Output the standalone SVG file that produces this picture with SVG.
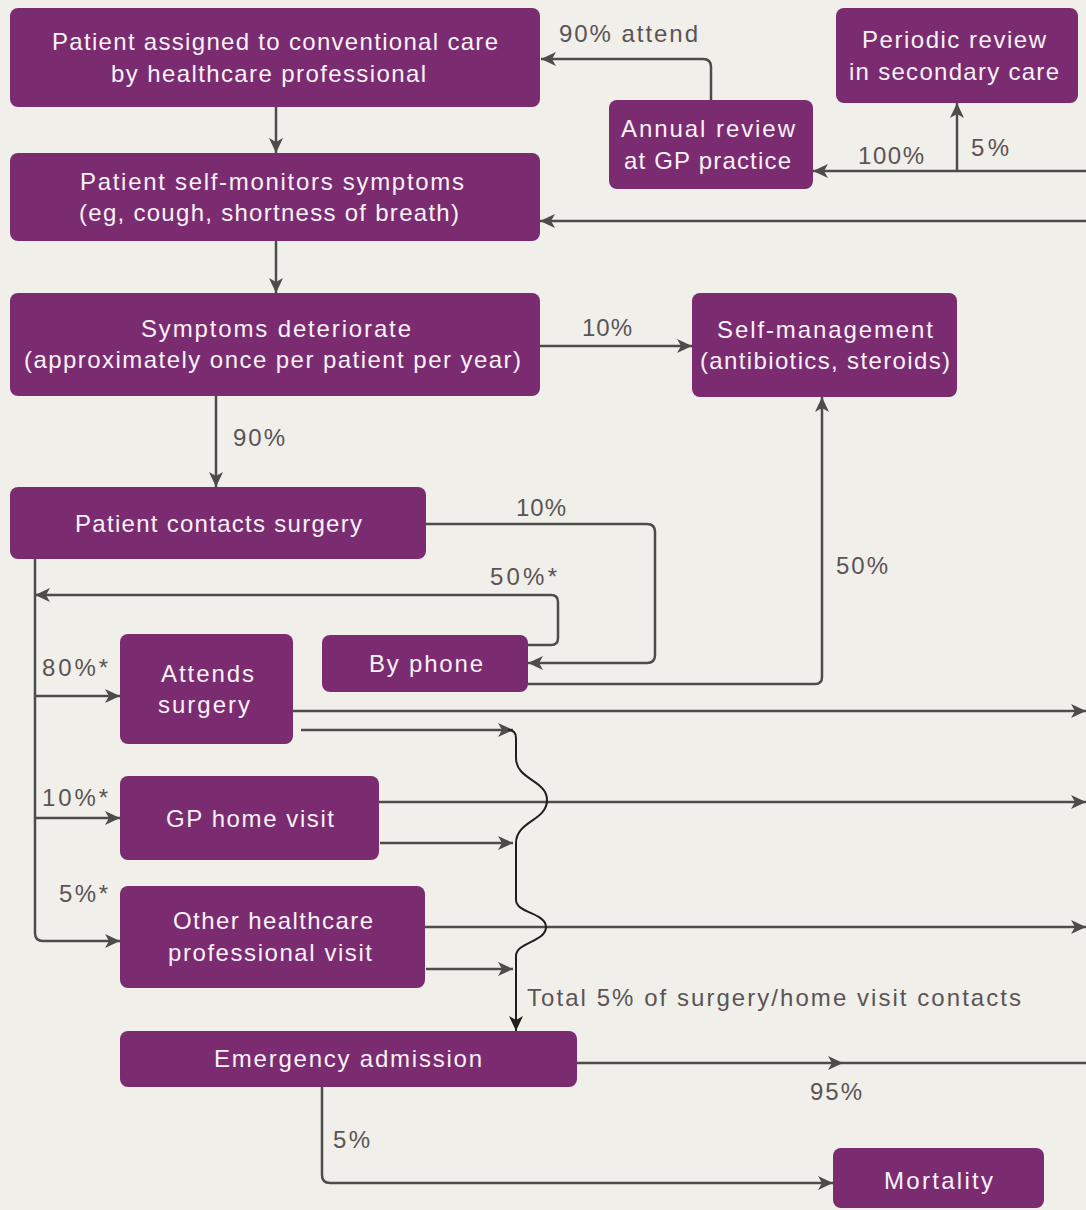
<svg xmlns="http://www.w3.org/2000/svg" width="1086" height="1210" viewBox="0 0 1086 1210">
<style>
.bg{fill:#f1efe9}
.node rect{fill:#7b2c71}
.nt{font-family:"Liberation Sans",Arial,sans-serif;font-size:24px;fill:#f8f2f7}
.lb{font-family:"Liberation Sans",Arial,sans-serif;font-size:24px;fill:#5b5456}
.ln{fill:none;stroke:#4c4c4a;stroke-width:2.5}
.wv{fill:none;stroke:#1f1f1f;stroke-width:2}
</style>
<defs>
<marker id="ah" markerUnits="userSpaceOnUse" markerWidth="16" markerHeight="14" refX="15" refY="7" orient="auto">
<path d="M0,0 L15,7 L0,14 L4,7 z" fill="#4c4c4a"/>
</marker>
<marker id="ahk" markerUnits="userSpaceOnUse" markerWidth="16" markerHeight="14" refX="15" refY="7" orient="auto">
<path d="M0,0 L15,7 L0,14 L4,7 z" fill="#1f1f1f"/>
</marker>
</defs>
<rect class="bg" x="0" y="0" width="1086" height="1210"/>

<g id="connectors">
<path class="ln" d="M276,107 V153" marker-end="url(#ah)"/>
<path class="ln" d="M276,241 V293" marker-end="url(#ah)"/>
<path class="ln" d="M540,346 H692" marker-end="url(#ah)"/>
<path class="ln" d="M216,396 V487" marker-end="url(#ah)"/>
<path class="ln" d="M711,100 V67 Q711,59 703,59 H541" marker-end="url(#ah)"/>
<path class="ln" d="M1086,171 H813" marker-end="url(#ah)"/>
<path class="ln" d="M957,171 V103" marker-end="url(#ah)"/>
<path class="ln" d="M1086,221 H540" marker-end="url(#ah)"/>
<path class="ln" d="M426,524 H647 Q655,524 655,532 V655 Q655,663 647,663 H528" marker-end="url(#ah)"/>
<path class="ln" d="M528,645 H551 Q558,645 558,638 V602 Q558,595 551,595 H35" marker-end="url(#ah)"/>
<path class="ln" d="M528,684 H815 Q822,684 822,677 V397" marker-end="url(#ah)"/>
<path class="ln" d="M35,559 V933 Q35,941 43,941 H120" marker-end="url(#ah)"/>
<path class="ln" d="M35,696 H120" marker-end="url(#ah)"/>
<path class="ln" d="M35,818 H120" marker-end="url(#ah)"/>
<path class="ln" d="M293,711 H1086" marker-end="url(#ah)"/>
<path class="ln" d="M379,802 H1086" marker-end="url(#ah)"/>
<path class="ln" d="M425,927 H1086" marker-end="url(#ah)"/>
<path class="ln" d="M301,730 H513" marker-end="url(#ah)"/>
<path class="ln" d="M380,843 H513" marker-end="url(#ah)"/>
<path class="ln" d="M426,969 H513" marker-end="url(#ah)"/>
<path class="wv" d="M508,730 Q516,730 516,738 V758 C516,780 547,780 547,800 C547,821 516,821 516,843 V900 C516,913 546,913 546,927 C546,942 516,942 516,956 V1031" marker-end="url(#ahk)"/>
<path class="ln" d="M577,1063 H843 H1086" marker-mid="url(#ah)"/>
<path class="ln" d="M322,1087 V1175 Q322,1183 330,1183 H833" marker-end="url(#ah)"/>
</g>

<g id="n1" class="node"><rect x="10" y="8" width="530" height="99" rx="8"/>
<text class="nt" x="52" y="50" textLength="446">Patient assigned to conventional care</text>
<text class="nt" x="111" y="82" textLength="315">by healthcare professional</text></g>
<g id="n2" class="node"><rect x="10" y="153" width="530" height="88" rx="8"/>
<text class="nt" x="80" y="190" textLength="384">Patient self-monitors symptoms</text>
<text class="nt" x="79" y="221" textLength="380">(eg, cough, shortness of breath)</text></g>
<g id="n3" class="node"><rect x="10" y="293" width="530" height="103" rx="8"/>
<text class="nt" x="141" y="337" textLength="270">Symptoms deteriorate</text>
<text class="nt" x="24" y="368" textLength="497">(approximately once per patient per year)</text></g>
<g id="n4" class="node"><rect x="692" y="293" width="265" height="104" rx="8"/>
<text class="nt" x="717" y="338" textLength="216">Self-management</text>
<text class="nt" x="700" y="369" textLength="250">(antibiotics, steroids)</text></g>
<g id="n5" class="node"><rect x="609" y="100" width="204" height="89" rx="8"/>
<text class="nt" x="621" y="137" textLength="174">Annual review</text>
<text class="nt" x="624" y="169" textLength="167">at GP practice</text></g>
<g id="n6" class="node"><rect x="836" y="8" width="242" height="95" rx="8"/>
<text class="nt" x="862" y="48" textLength="184">Periodic review</text>
<text class="nt" x="849" y="80" textLength="210">in secondary care</text></g>
<g id="n7" class="node"><rect x="10" y="487" width="416" height="72" rx="8"/>
<text class="nt" x="75" y="532" textLength="287">Patient contacts surgery</text></g>
<g id="n8" class="node"><rect x="322" y="635" width="206" height="57" rx="8"/>
<text class="nt" x="369" y="672" textLength="114">By phone</text></g>
<g id="n9" class="node"><rect x="120" y="634" width="173" height="110" rx="8"/>
<text class="nt" x="161" y="682" textLength="93">Attends</text>
<text class="nt" x="158" y="713" textLength="92">surgery</text></g>
<g id="n10" class="node"><rect x="120" y="776" width="259" height="84" rx="8"/>
<text class="nt" x="166" y="827" textLength="168">GP home visit</text></g>
<g id="n11" class="node"><rect x="120" y="886" width="305" height="102" rx="8"/>
<text class="nt" x="173" y="929" textLength="200">Other healthcare</text>
<text class="nt" x="168" y="961" textLength="204">professional visit</text></g>
<g id="n12" class="node"><rect x="120" y="1031" width="457" height="56" rx="8"/>
<text class="nt" x="214" y="1067" textLength="268">Emergency admission</text></g>
<g id="n13" class="node"><rect x="833" y="1148" width="211" height="60" rx="8"/>
<text class="nt" x="884" y="1189" textLength="109">Mortality</text></g>

<g id="labels">
<text class="lb" x="559" y="42" textLength="139">90% attend</text>
<text class="lb" x="858" y="164" textLength="66">100%</text>
<text class="lb" x="971" y="156" textLength="38">5%</text>
<text class="lb" x="582" y="336" textLength="50">10%</text>
<text class="lb" x="233" y="446" textLength="52">90%</text>
<text class="lb" x="516" y="516" textLength="50">10%</text>
<text class="lb" x="490" y="585" textLength="67">50%*</text>
<text class="lb" x="836" y="574" textLength="52">50%</text>
<text class="lb" x="42" y="676" textLength="66">80%*</text>
<text class="lb" x="42" y="806" textLength="66">10%*</text>
<text class="lb" x="59" y="902" textLength="49">5%*</text>
<text class="lb" x="527" y="1006" textLength="494">Total 5% of surgery/home visit contacts</text>
<text class="lb" x="810" y="1100" textLength="52">95%</text>
<text class="lb" x="333" y="1148" textLength="37">5%</text>
</g>
</svg>
